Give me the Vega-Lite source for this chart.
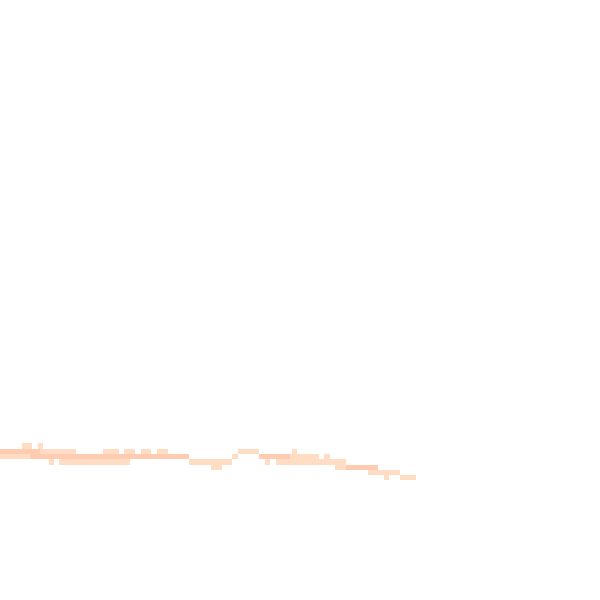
{
  "$schema": "https://vega.github.io/schema/vega-lite/v6.json",
  "width": 600,
  "height": 600,
  "autosize": {"type": "fit", "contains": "padding"},
  "padding": 0,
  "background": "white",
  "view": {"stroke": null},
  "data": {
    "values": [
      {"start": 22, "end": 32, "lo": 443, "hi": 449, "tone": "light"},
      {"start": 38, "end": 43, "lo": 443, "hi": 449, "tone": "light"},
      {"start": 0, "end": 40, "lo": 449, "hi": 454, "tone": "dark"},
      {"start": 40, "end": 76, "lo": 449, "hi": 454, "tone": "light"},
      {"start": 103, "end": 119, "lo": 449, "hi": 454, "tone": "light"},
      {"start": 124, "end": 135, "lo": 449, "hi": 454, "tone": "light"},
      {"start": 141, "end": 151, "lo": 449, "hi": 454, "tone": "light"},
      {"start": 157, "end": 168, "lo": 449, "hi": 454, "tone": "light"},
      {"start": 238, "end": 259, "lo": 449, "hi": 454, "tone": "light"},
      {"start": 292, "end": 297, "lo": 449, "hi": 454, "tone": "light"},
      {"start": 0, "end": 30, "lo": 454, "hi": 459, "tone": "light"},
      {"start": 30, "end": 189, "lo": 454, "hi": 459, "tone": "dark"},
      {"start": 232, "end": 238, "lo": 454, "hi": 459, "tone": "light"},
      {"start": 259, "end": 290, "lo": 454, "hi": 459, "tone": "dark"},
      {"start": 290, "end": 319, "lo": 454, "hi": 459, "tone": "light"},
      {"start": 324, "end": 330, "lo": 454, "hi": 459, "tone": "light"},
      {"start": 49, "end": 54, "lo": 459, "hi": 465, "tone": "light"},
      {"start": 59, "end": 130, "lo": 459, "hi": 465, "tone": "light"},
      {"start": 189, "end": 232, "lo": 459, "hi": 465, "tone": "light"},
      {"start": 265, "end": 270, "lo": 459, "hi": 465, "tone": "light"},
      {"start": 276, "end": 346, "lo": 459, "hi": 465, "tone": "light"},
      {"start": 211, "end": 222, "lo": 465, "hi": 470, "tone": "light"},
      {"start": 335, "end": 346, "lo": 465, "hi": 470, "tone": "light"},
      {"start": 346, "end": 378, "lo": 465, "hi": 470, "tone": "dark"},
      {"start": 368, "end": 400, "lo": 470, "hi": 475, "tone": "light"},
      {"start": 384, "end": 389, "lo": 475, "hi": 480, "tone": "light"},
      {"start": 400, "end": 416, "lo": 475, "hi": 480, "tone": "light"}
    ]
  },
  "mark": {"type": "rect", "strokeWidth": 0},
  "encoding": {
    "x": {"field": "start", "type": "quantitative", "scale": {"domain": [0, 600], "nice": false, "zero": false}, "axis": null},
    "x2": {"field": "end"},
    "y": {"field": "lo", "type": "quantitative", "scale": {"domain": [0, 600], "nice": false, "zero": false, "reverse": true}, "axis": null},
    "y2": {"field": "hi"},
    "color": {
      "field": "tone",
      "type": "nominal",
      "scale": {"domain": ["light", "dark"], "range": ["#ffdcc4", "#ffccb2"]},
      "legend": null
    }
  }
}
